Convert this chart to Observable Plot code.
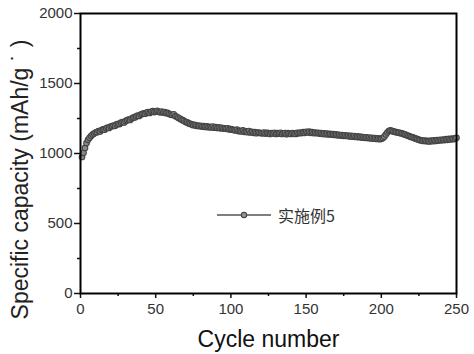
<!DOCTYPE html>
<html>
<head>
<meta charset="utf-8">
<script src="https://cdn.jsdelivr.net/npm/d3@7"></script>
<script src="https://cdn.jsdelivr.net/npm/@observablehq/plot@0.6"></script>
<style>
  html, body { margin: 0; padding: 0; background: #fff; }
  #wrap { position: relative; width: 474px; height: 354px; }
  #legend { position: absolute; left: 217px; top: 203px; display: flex; align-items: center;
            font-family: "Noto Sans CJK SC", sans-serif; font-size: 16px; color: #333; }
  #legend svg { display: block; }
</style>
</head>
<body>
<div id="wrap"><div id="legend"></div></div>
<script>
const seriesName = "实施例5";
const xLabel = "Cycle number";
const yLabel = "Specific capacity (mAh/g \u02d9 )";
const xTicks = [0, 50, 100, 150, 200, 250];
const xMinorTicks = [25, 75, 125, 175, 225];
const yTicks = [0, 500, 1000, 1500, 2000];
const yMinorTicks = [250, 750, 1250, 1750];

// capacity per cycle, cycles 1..250
const capacity = [
  975, 1005, 1040, 1075, 1098, 1112, 1125, 1135, 1142, 1150,
  1152, 1160, 1158, 1168, 1172, 1170, 1180, 1185, 1182, 1192,
  1195, 1200, 1198, 1208, 1212, 1210, 1220, 1225, 1222, 1232,
  1238, 1242, 1240, 1250, 1256, 1258, 1265, 1270, 1268, 1278,
  1282, 1286, 1284, 1292, 1296, 1290, 1298, 1302, 1296, 1300,
  1305, 1298, 1294, 1300, 1292, 1296, 1288, 1290, 1282, 1278,
  1275, 1280, 1268, 1262, 1255, 1250, 1242, 1238, 1232, 1225,
  1222, 1215, 1212, 1208, 1202, 1205, 1198, 1200, 1195, 1198,
  1192, 1195, 1190, 1194, 1188, 1190, 1186, 1192, 1184, 1188,
  1182, 1186, 1180, 1184, 1178, 1180, 1176, 1180, 1172, 1175,
  1170, 1168, 1165, 1170, 1160, 1162, 1158, 1165, 1155, 1158,
  1152, 1160, 1150, 1155, 1148, 1152, 1145, 1150, 1148, 1146,
  1144, 1150, 1142, 1148, 1145, 1140, 1146, 1143, 1148, 1140,
  1145, 1142, 1148, 1140, 1144, 1146, 1138, 1145, 1142, 1140,
  1146, 1143, 1140, 1148, 1144, 1150, 1146, 1152, 1148, 1155,
  1150, 1156, 1148, 1152, 1146, 1150, 1145, 1148, 1142, 1146,
  1140, 1144, 1138, 1142, 1136, 1140, 1135, 1138, 1132, 1136,
  1130, 1134, 1128, 1132, 1126, 1130, 1125, 1128, 1122, 1126,
  1120, 1125, 1118, 1122, 1116, 1120, 1114, 1118, 1112, 1116,
  1110, 1114, 1108, 1112, 1106, 1110, 1104, 1108, 1102, 1106,
  1110, 1120, 1135, 1150, 1160, 1165, 1162, 1158, 1155, 1152,
  1150, 1148, 1145, 1142, 1138, 1135, 1130, 1126, 1122, 1118,
  1115, 1110, 1106, 1102, 1098, 1095, 1092, 1090, 1092, 1088,
  1090, 1086, 1092, 1088, 1094, 1090, 1095, 1092, 1098, 1094,
  1100, 1096, 1102, 1098, 1104, 1100, 1106, 1102, 1108, 1112
];
const cycles = capacity.map((_, i) => i + 1);
const data = capacity.map((v, i) => ({cycle: cycles[i], cap: v}));

const lineColor = "#555";
const tickFont = "Liberation Sans, Arial, sans-serif";
const fmt = d3.format("d");

const chart = Plot.plot({
  width: 474,
  height: 354,
  marginLeft: 80,
  marginRight: 18,
  marginTop: 13,
  marginBottom: 61,
  style: {fontFamily: tickFont, background: "#fff"},
  x: {domain: [0, 250]},
  y: {domain: [0, 2000]},
  marks: [
    Plot.axisX({ticks: xTicks, tickFormat: fmt, tickSize: 5, tickPadding: 5, fontSize: 15, color: "#333", stroke: "#111", strokeWidth: 1.5, label: null}),
    Plot.axisX({ticks: xMinorTicks, tickSize: 3, text: null, stroke: "#111", strokeWidth: 1.5, label: null}),
    Plot.axisY({ticks: yTicks, tickFormat: fmt, tickSize: 6, tickPadding: 2, fontSize: 15, color: "#333", stroke: "#111", strokeWidth: 1.5, label: null}),
    Plot.axisY({ticks: yMinorTicks, tickSize: 3, text: null, stroke: "#111", strokeWidth: 1.5, label: null}),
    Plot.line(data, {x: "cycle", y: "cap", stroke: lineColor, strokeWidth: 1.5}),
    Plot.dot(data, {x: "cycle", y: "cap", r: 2.8, stroke: "#444", fill: "#8a8a8a", strokeWidth: 1.1}),
    Plot.frame({stroke: "#000", strokeWidth: 2}),
    Plot.text([xLabel], {frameAnchor: "bottom", dy: 46, fontSize: 23, fill: "#111", textAnchor: "middle", lineAnchor: "middle"}),
    Plot.text([yLabel], {frameAnchor: "left", dx: -60, dy: 26, rotate: -90, fontSize: 23, fill: "#222", textAnchor: "middle", lineAnchor: "middle"})
  ]
});
document.getElementById("wrap").prepend(chart);

const legend = document.getElementById("legend");
legend.innerHTML =
  `<svg width="56" height="20"><line x1="0" y1="10" x2="54" y2="10" stroke="${lineColor}" stroke-width="1.5"/>` +
  `<circle cx="27" cy="10" r="2.6" stroke="#4a4a4a" fill="#9a9a9a" stroke-width="1.2"/></svg>` +
  `<span style="margin-left:5px">${seriesName}</span>`;
</script>
</body>
</html>
